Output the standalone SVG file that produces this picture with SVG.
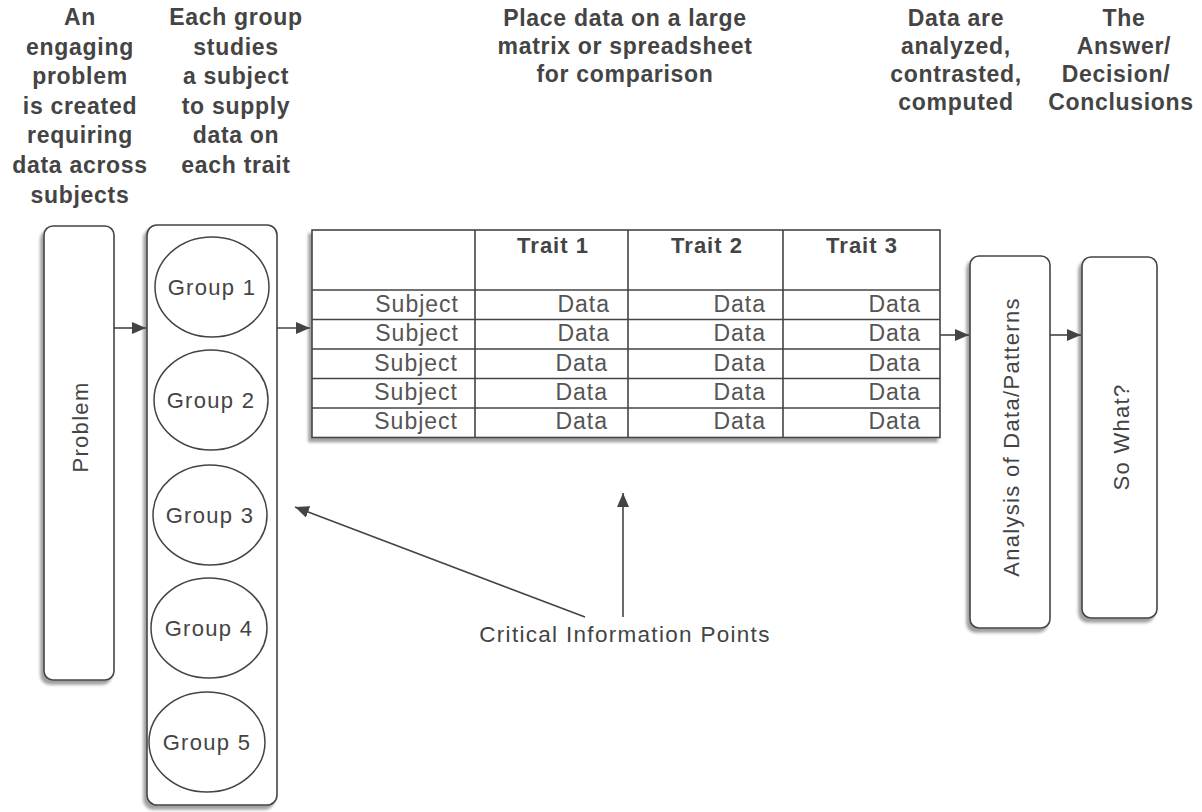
<svg xmlns="http://www.w3.org/2000/svg" width="1202" height="812" viewBox="0 0 1202 812">
<style>
.hdr{font-family:"Liberation Sans",Arial,sans-serif;font-weight:bold;font-size:23px;fill:#444;letter-spacing:0.7px;text-anchor:middle}
.lbl{font-family:"Liberation Sans",Arial,sans-serif;font-size:22px;fill:#444;letter-spacing:1.3px;text-anchor:middle}
.cp{font-size:22.5px}
.cell{font-family:"Liberation Sans",Arial,sans-serif;font-size:23px;fill:#555;letter-spacing:1px;text-anchor:end}
.th{font-family:"Liberation Sans",Arial,sans-serif;font-weight:bold;font-size:22px;fill:#444;letter-spacing:1px;text-anchor:middle}
.box{fill:#fff;stroke:#444;stroke-width:1.6;filter:url(#sh)}
.ell{fill:#fff;stroke:#444;stroke-width:1.5}
.grid{stroke:#444;stroke-width:1.6;fill:none}
.con{stroke:#444;stroke-width:1.6;fill:none;marker-end:url(#ah)}
</style>
<defs>
<filter id="sh" x="-20%" y="-5%" width="140%" height="110%">
<feDropShadow dx="-3" dy="4" stdDeviation="1.5" flood-color="#888" flood-opacity="0.8"/>
</filter>
<marker id="ah" viewBox="0 0 14 12" refX="14" refY="6" markerWidth="14" markerHeight="12" markerUnits="userSpaceOnUse" orient="auto">
<path d="M0,0 L14,6 L0,12 Z" fill="#444"/>
</marker>
</defs>
<rect width="1202" height="812" fill="#fff"/>

<g id="headers">
<text class="hdr" x="80" y="25">An</text>
<text class="hdr" x="80" y="54.6">engaging</text>
<text class="hdr" x="80" y="84.2">problem</text>
<text class="hdr" x="80" y="113.8">is created</text>
<text class="hdr" x="80" y="143.4">requiring</text>
<text class="hdr" x="80" y="173">data across</text>
<text class="hdr" x="80" y="202.6">subjects</text>
<text class="hdr" x="236" y="25">Each group</text>
<text class="hdr" x="236" y="54.6">studies</text>
<text class="hdr" x="236" y="84.2">a subject</text>
<text class="hdr" x="236" y="113.8">to supply</text>
<text class="hdr" x="236" y="143.4">data on</text>
<text class="hdr" x="236" y="173">each trait</text>
<text class="hdr" x="625" y="26">Place data on a large</text>
<text class="hdr" x="625" y="54">matrix or spreadsheet</text>
<text class="hdr" x="625" y="82">for comparison</text>
<text class="hdr" x="956" y="26">Data are</text>
<text class="hdr" x="956" y="54">analyzed,</text>
<text class="hdr" x="956" y="82">contrasted,</text>
<text class="hdr" x="956" y="110">computed</text>
<text class="hdr" x="1124" y="26">The</text>
<text class="hdr" x="1124" y="54">Answer/</text>
<text class="hdr" x="1116" y="82">Decision/</text>
<text class="hdr" x="1121" y="110">Conclusions</text>
</g>

<g id="problem">
<rect class="box" x="44" y="226" width="70" height="454" rx="9"/>
<text class="lbl" transform="translate(88,427) rotate(-90)">Problem</text>
</g>

<g id="groups">
<rect class="box" x="147" y="225" width="130" height="580" rx="10"/>
<g id="group1"><ellipse class="ell" cx="212" cy="287" rx="57" ry="50"/><text class="lbl" x="212" y="295">Group 1</text></g>
<g id="group2"><ellipse class="ell" cx="211" cy="400" rx="57" ry="50"/><text class="lbl" x="211" y="408">Group 2</text></g>
<g id="group3"><ellipse class="ell" cx="210" cy="515" rx="57" ry="50"/><text class="lbl" x="210" y="523">Group 3</text></g>
<g id="group4"><ellipse class="ell" cx="209" cy="628" rx="58" ry="50"/><text class="lbl" x="209" y="636">Group 4</text></g>
<g id="group5"><ellipse class="ell" cx="207" cy="742" rx="58" ry="50"/><text class="lbl" x="207" y="750">Group 5</text></g>
</g>

<g id="matrix">
<rect class="box" x="312" y="230" width="628" height="207.5" rx="0"/>
<path class="grid" d="M312,290 H940 M312,319.5 H940 M312,349 H940 M312,378.5 H940 M312,408 H940 M475,230 V437.5 M628,230 V437.5 M783,230 V437.5"/>
<text class="th" x="553" y="253">Trait 1</text>
<text class="th" x="707" y="253">Trait 2</text>
<text class="th" x="862" y="253">Trait 3</text>
<text class="cell" x="459" y="312">Subject</text>
<text class="cell" x="459" y="341">Subject</text>
<text class="cell" x="458" y="371">Subject</text>
<text class="cell" x="458" y="400">Subject</text>
<text class="cell" x="458" y="429">Subject</text>
<text class="cell" x="610" y="312">Data</text>
<text class="cell" x="610" y="341">Data</text>
<text class="cell" x="608" y="371">Data</text>
<text class="cell" x="608" y="400">Data</text>
<text class="cell" x="608" y="429">Data</text>
<text class="cell" x="766" y="312">Data</text>
<text class="cell" x="766" y="341">Data</text>
<text class="cell" x="766" y="371">Data</text>
<text class="cell" x="766" y="400">Data</text>
<text class="cell" x="766" y="429">Data</text>
<text class="cell" x="921" y="312">Data</text>
<text class="cell" x="921" y="341">Data</text>
<text class="cell" x="921" y="371">Data</text>
<text class="cell" x="921" y="400">Data</text>
<text class="cell" x="921" y="429">Data</text>
</g>

<g id="analysis">
<rect class="box" x="970" y="256" width="80" height="372" rx="9"/>
<text class="lbl" transform="translate(1019,437) rotate(-90)">Analysis of Data/Patterns</text>
</g>

<g id="sowhat">
<rect class="box" x="1082" y="257" width="75" height="361" rx="9"/>
<text class="lbl" transform="translate(1129,437) rotate(-90)">So What?</text>
</g>

<g id="critical">
<text class="lbl cp" x="625" y="642">Critical Information Points</text>
</g>

<g id="connectors">
<line class="con" x1="114" y1="328" x2="146" y2="328"/>
<line class="con" x1="277" y1="328" x2="310" y2="328"/>
<line class="con" x1="940" y1="335" x2="969" y2="335"/>
<line class="con" x1="1050" y1="335" x2="1081" y2="335"/>
<line class="con" x1="585" y1="617" x2="295" y2="507"/>
<line class="con" x1="623" y1="617" x2="623" y2="493"/>
</g>
</svg>
